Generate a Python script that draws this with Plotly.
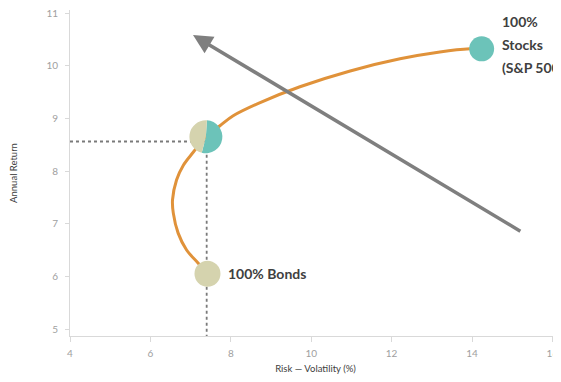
import plotly.graph_objects as go

# ---- data ----
frontier_risk = [7.42, 7.19, 6.90, 6.69, 6.57, 6.55, 6.65, 6.82, 7.07, 7.38,
                 7.73, 8.06, 8.73, 9.72, 10.97, 12.21, 13.20, 13.95, 14.24]
frontier_return = [6.05, 6.25, 6.50, 6.82, 7.20, 7.45, 7.83, 8.11, 8.36, 8.65,
                   8.86, 9.05, 9.30, 9.60, 9.90, 10.13, 10.26, 10.32, 10.32]

bonds = {"risk": 7.42, "ret": 6.05, "label": "100% Bonds"}
stocks = {"risk": 14.24, "ret": 10.32, "label": ["100%", "Stocks", "(S&P 500)"]}
mix = {"risk": 7.38, "ret": 8.65, "bonds_share": 47, "stocks_share": 53}
ref_risk = 7.40
ref_return = 8.56

arrow_tail = (15.24, 6.84)
arrow_head = (7.06, 10.58)

x_ticks = [4, 6, 8, 10, 12, 14, 16]
y_ticks = [5, 6, 7, 8, 9, 10, 11]
x_range = [4, 16.214]
y_range = [4.867, 11.057]

ORANGE = "#E0923A"
TEAL = "#6CC3B9"
BEIGE = "#D5D3AE"
FONT = "Lato"

# page body has an 8px margin, so the figure is sized to fill the rest of the window
W, H = 553, 366
M = dict(l=62, r=0, t=2, b=38)
pw = W - M["l"] - M["r"]
ph = H - M["t"] - M["b"]

fig = go.Figure()

# dotted reference lines
fig.add_trace(go.Scatter(x=[x_range[0], ref_risk], y=[ref_return, ref_return], mode="lines",
                         line=dict(color="#7a7a7a", width=1.8, dash="dot"), hoverinfo="skip"))
fig.add_trace(go.Scatter(x=[ref_risk, ref_risk], y=[mix["ret"], y_range[0]], mode="lines",
                         line=dict(color="#7a7a7a", width=1.8, dash="dot"), hoverinfo="skip"))

# frontier curve
fig.add_trace(go.Scatter(x=frontier_risk, y=frontier_return, mode="lines",
                         line=dict(color=ORANGE, width=3, shape="spline", smoothing=1),
                         hoverinfo="skip"))

# end points
fig.add_trace(go.Scatter(x=[bonds["risk"]], y=[bonds["ret"]], mode="markers",
                         marker=dict(color=BEIGE, size=26, line=dict(width=0))))
fig.add_trace(go.Scatter(x=[stocks["risk"]], y=[stocks["ret"]], mode="markers",
                         marker=dict(color=TEAL, size=25, line=dict(width=0))))

# mixed portfolio pie
def to_paper_x(v):
    return (v - x_range[0]) / (x_range[1] - x_range[0])

def to_paper_y(v):
    return (v - y_range[0]) / (y_range[1] - y_range[0])

r_px = 16.5
cx, cy = to_paper_x(mix["risk"]), to_paper_y(mix["ret"])
fig.add_trace(go.Pie(values=[mix["stocks_share"], mix["bonds_share"]],
                     marker=dict(colors=[TEAL, BEIGE], line=dict(width=0)),
                     direction="clockwise", rotation=3.6, sort=False,
                     textinfo="none", hoverinfo="skip", showlegend=False,
                     domain=dict(x=[cx - r_px / pw, cx + r_px / pw],
                                 y=[cy - r_px / ph, cy + r_px / ph])))

annotations = [
    dict(x=arrow_head[0], y=arrow_head[1], ax=arrow_tail[0], ay=arrow_tail[1],
         xref="x", yref="y", axref="x", ayref="y", text="", showarrow=True,
         arrowhead=2, arrowsize=1.1, arrowwidth=3.5, arrowcolor="#7f7f7f"),
    dict(x=bonds["risk"] + 0.45, y=bonds["ret"], xref="x", yref="y", text="<b>" + bonds["label"] + "</b>",
         showarrow=False, xanchor="left", yanchor="middle",
         font=dict(family=FONT, size=14, color="#404040")),
]
for i, line in enumerate(stocks["label"]):
    annotations.append(dict(x=stocks["risk"] + 0.46, y=stocks["ret"], xref="x", yref="y",
                            text="<b>" + line + "</b>", showarrow=False,
                            xanchor="left", yanchor="middle", yshift=(1 - i) * 23 + 4,
                            font=dict(family=FONT, size=14, color="#404040")))

fig.update_layout(
    width=W, height=H, margin=M,
    paper_bgcolor="white", plot_bgcolor="white",
    showlegend=False,
    font=dict(family=FONT),
    annotations=annotations,
    xaxis=dict(range=x_range, tickvals=x_ticks, showgrid=False, zeroline=False,
               automargin=False, ticklabeloverflow="allow",
               showline=True, linecolor="#D9D9D9", linewidth=1,
               ticks="outside", ticklen=5, tickcolor="#D9D9D9",
               ticklabelstandoff=3,
               tickfont=dict(size=10, color="#a0a0a0", family=FONT),
               title=dict(text="Risk — Volatility (%)", standoff=13,
                          font=dict(size=9.5, color="#404040", family=FONT))),
    yaxis=dict(range=y_range, tickvals=y_ticks, showgrid=False, zeroline=False,
               automargin=False, ticklabeloverflow="allow",
               showline=True, linecolor="#D9D9D9", linewidth=1,
               ticks="outside", ticklen=4, tickcolor="#D9D9D9",
               ticklabelstandoff=5,
               tickfont=dict(size=10, color="#a0a0a0", family=FONT),
               title=dict(text="Annual Return", standoff=32,
                          font=dict(size=9.5, color="#404040", family=FONT))),
)

fig.write_html("out.html")
